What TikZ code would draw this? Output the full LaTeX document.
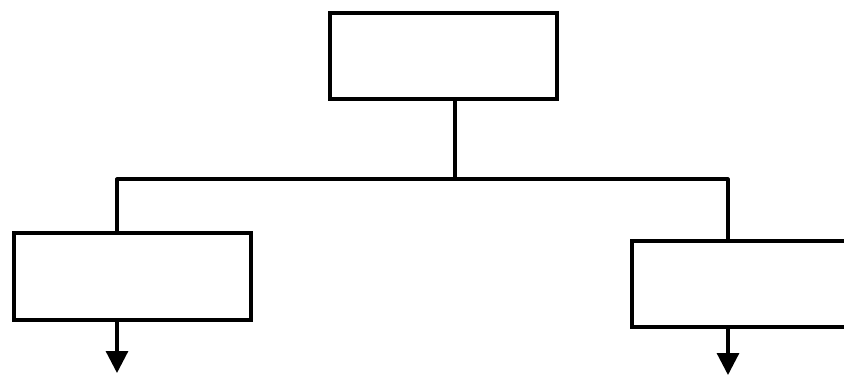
\documentclass[tikz,border=0pt]{standalone}
\usetikzlibrary{arrows.meta}
\begin{document}
\begin{tikzpicture}[x=1pt,y=-1pt,
  box/.style={draw, line width=3.8pt, inner sep=0pt, anchor=north west},
  conn/.style={line width=3.2pt, line join=round},
  arr/.style={conn, -{Triangle[width=22pt,length=22pt]}}]
\useasboundingbox (0,0) rectangle (844,376);
\clip (0,0) rectangle (844,376);
\fill[white] (0,0) rectangle (844,376);
\node[box, minimum width=227pt, minimum height=86pt] (top) at (328,11) {};
\node[box, minimum width=237pt, minimum height=87pt] (left) at (12,231) {};
\node[box, minimum width=230pt, minimum height=86pt] (right) at (630,239) {};
\coordinate (j) at (455,179);
\coordinate (lj) at (117,179);
\coordinate (rj) at (728,179);
\coordinate (lend) at (117,373);
\coordinate (rend) at (728,375);
\draw[conn] (j |- top.south) -- (j);
\draw[conn] (lj |- left.north) -- (lj) -- (rj) -- (rj |- right.north);
\draw[arr] (lj |- left.south) -- (lend);
\draw[arr] (rj |- right.south) -- (rend);
\end{tikzpicture}
\end{document}
